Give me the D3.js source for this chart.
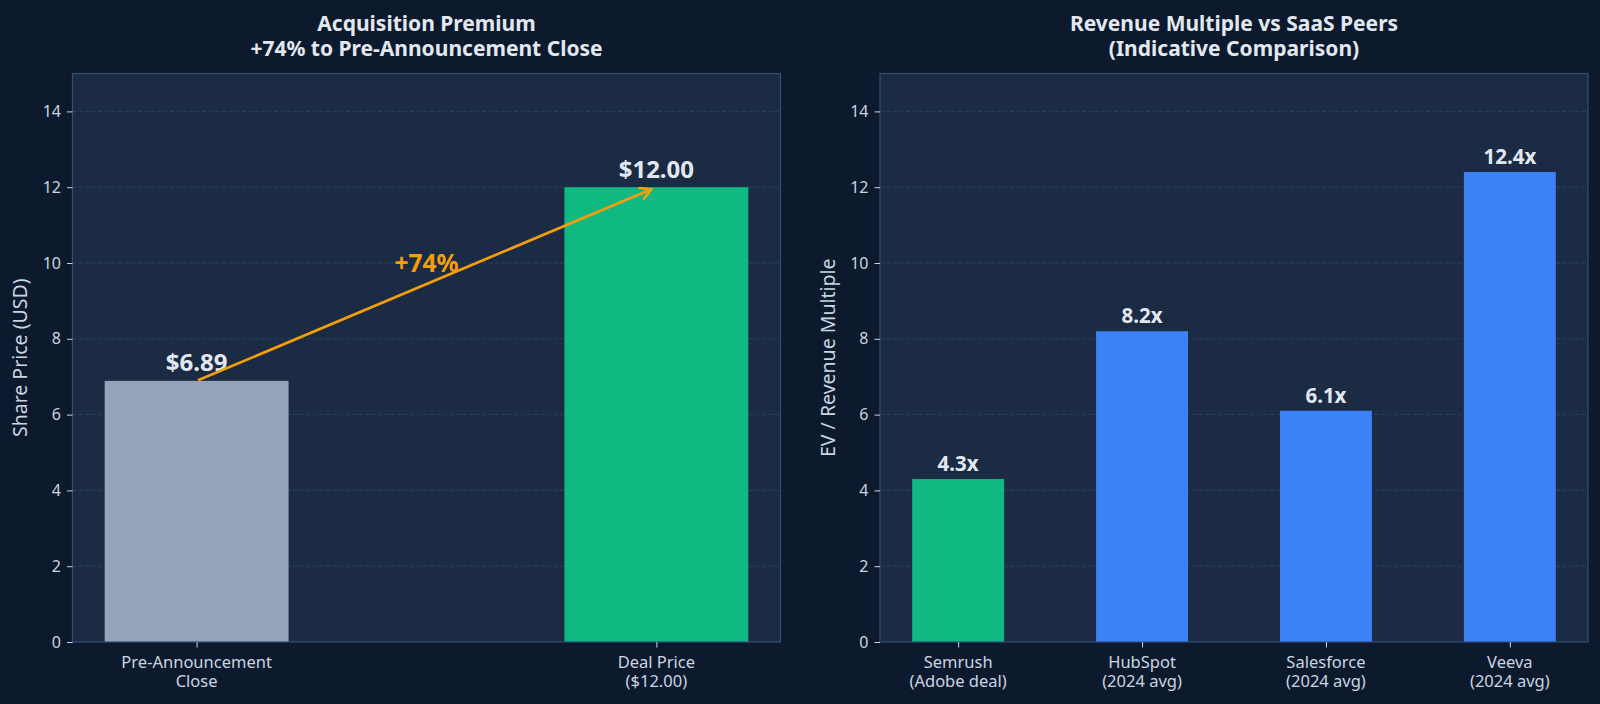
<!DOCTYPE html>
<html>
<head>
<meta charset="utf-8">
<script src="https://cdn.jsdelivr.net/npm/d3@7"></script>
<style>
  body { margin: 0; background: #0d1a2d; }
  svg { display: block; }
  text { font-family: "Noto Sans", "Open Sans", sans-serif; }
</style>
</head>
<body>
<div id="chart"></div>
<script>
// data
var premiumLabels = [["Pre-Announcement", "Close"], ["Deal Price", "($12.00)"]];
var premiumValues = [6.89, 12.00];
var premiumText = ["$6.89", "$12.00"];
var premiumPct = "+74%";

var peerLabels = [["Semrush", "(Adobe deal)"], ["HubSpot", "(2024 avg)"], ["Salesforce", "(2024 avg)"], ["Veeva", "(2024 avg)"]];
var peerValues = [4.3, 8.2, 6.1, 12.4];
var peerText = ["4.3x", "8.2x", "6.1x", "12.4x"];

var yTicks = [0, 2, 4, 6, 8, 10, 12, 14];

var W = 1600, H = 704;
var plotTop = 73.5, plotBottom = 642;
var panelW = 708;

var svg = d3.select("#chart").append("svg")
    .attr("width", W)
    .attr("height", H);

svg.append("rect").attr("width", W).attr("height", H).attr("fill", "#0d1a2d");

var defs = svg.append("defs");
defs.append("marker")
    .attr("id", "arrowhead")
    .attr("viewBox", "0 0 12 12")
    .attr("refX", 10).attr("refY", 6)
    .attr("markerWidth", 14).attr("markerHeight", 14)
    .attr("markerUnits", "userSpaceOnUse")
    .attr("orient", "auto")
    .append("path")
    .attr("d", "M1,1 L10,6 L1,11")
    .attr("fill", "none")
    .attr("stroke", "#f59e0b")
    .attr("stroke-width", 2.3)
    .attr("stroke-linecap", "round");

function panel(left, labels, values, xDomain, barW, colors, title, yLabel) {
    var g = svg.append("g").attr("transform", "translate(" + left + ",0)");

    var x = d3.scaleLinear().domain(xDomain).range([0, panelW]);
    var y = d3.scaleLinear().domain([0, 15]).range([plotBottom, plotTop]);

    // background
    g.append("rect")
        .attr("x", 0).attr("y", plotTop)
        .attr("width", panelW).attr("height", plotBottom - plotTop)
        .attr("fill", "#1c2b44");

    // grid
    g.selectAll(".grid")
        .data(yTicks.filter(function (d) { return d > 0; }))
        .enter()
        .append("line")
        .attr("class", "grid")
        .attr("x1", 0).attr("x2", panelW)
        .attr("y1", function (d) { return y(d); })
        .attr("y2", function (d) { return y(d); })
        .attr("stroke", "#2f4566")
        .attr("stroke-width", 0.8)
        .attr("stroke-dasharray", "4,2.5");

    // bars
    g.selectAll(".bar")
        .data(values)
        .enter()
        .append("rect")
        .attr("class", "bar")
        .attr("x", function (d, i) { return x(i - barW / 2); })
        .attr("y", function (d) { return y(d); })
        .attr("width", x(barW) - x(0))
        .attr("height", function (d) { return y(0) - y(d); })
        .attr("fill", function (d, i) { return colors[i]; });

    // frame
    g.append("rect")
        .attr("x", 0).attr("y", plotTop)
        .attr("width", panelW).attr("height", plotBottom - plotTop)
        .attr("fill", "none")
        .attr("stroke", "#334e75")
        .attr("stroke-width", 1.2);

    // y axis
    var yAxis = d3.axisLeft(y).tickValues(yTicks).tickSize(5.5).tickPadding(6);
    var ya = g.append("g").call(yAxis);
    ya.select(".domain").remove();
    ya.selectAll("line").attr("stroke", "#cbd5e1").attr("stroke-width", 1);
    ya.selectAll("text").attr("fill", "#cbd5e1").attr("font-size", 16)
        .style("font-family", "Noto Sans");

    // x axis
    var xAxis = d3.axisBottom(x).tickValues(d3.range(labels.length)).tickSize(5.5).tickFormat("");
    var xa = g.append("g").attr("transform", "translate(0," + plotBottom + ")").call(xAxis);
    xa.select(".domain").remove();
    xa.selectAll("line").attr("stroke", "#cbd5e1").attr("stroke-width", 1);

    labels.forEach(function (lines, i) {
        var t = g.append("text")
            .attr("x", x(i))
            .attr("y", plotBottom + 26)
            .attr("text-anchor", "middle")
            .attr("fill", "#cbd5e1")
            .attr("font-size", 16.5);
        lines.forEach(function (l, k) {
            t.append("tspan").attr("x", x(i)).attr("dy", k === 0 ? 0 : 18.5).text(l);
        });
    });

    // y label
    g.append("text")
        .attr("transform", "translate(-52," + ((plotTop + plotBottom) / 2) + ") rotate(-90)")
        .attr("dy", "0.35em")
        .attr("text-anchor", "middle")
        .attr("fill", "#cbd5e1")
        .attr("font-size", 19.5)
        .text(yLabel);

    // title
    var tt = g.append("text")
        .attr("x", panelW / 2)
        .attr("y", 30.5)
        .attr("text-anchor", "middle")
        .attr("fill", "#e2e8f0")
        .attr("font-size", 21)
        .attr("font-weight", "bold");
    title.forEach(function (l, k) {
        tt.append("tspan").attr("x", panelW / 2).attr("dy", k === 0 ? 0 : 25).text(l);
    });

    return { g: g, x: x, y: y };
}

var left = panel(72.5, premiumLabels, premiumValues, [-0.27, 1.27], 0.4,
    ["#94a3b8", "#10b981"],
    ["Acquisition Premium", "+74% to Pre-Announcement Close"], "Share Price (USD)");

left.g.selectAll(".val")
    .data(premiumValues)
    .enter()
    .append("text")
    .attr("class", "val")
    .attr("x", function (d, i) { return left.x(i); })
    .attr("y", function (d) { return left.y(d) - 9.7; })
    .attr("text-anchor", "middle")
    .attr("fill", "#e2e8f0")
    .attr("font-size", 24)
    .attr("font-weight", "bold")
    .text(function (d, i) { return premiumText[i]; });

// premium arrow, shrunk a little at both ends
var ax1 = left.x(0), ay1 = left.y(premiumValues[0]);
var ax2 = left.x(1), ay2 = left.y(premiumValues[1]);
var alen = Math.sqrt((ax2 - ax1) * (ax2 - ax1) + (ay2 - ay1) * (ay2 - ay1));
var ux = (ax2 - ax1) / alen, uy = (ay2 - ay1) / alen;

left.g.append("line")
    .attr("x1", ax1 + ux * 1.5).attr("y1", ay1 + uy * 1.5)
    .attr("x2", ax2 - ux * 5.5).attr("y2", ay2 - uy * 5.5)
    .attr("stroke", "#f59e0b")
    .attr("stroke-width", 2.7)
    .attr("marker-end", "url(#arrowhead)");

left.g.append("text")
    .attr("x", left.x(0.5))
    .attr("y", left.y(10))
    .attr("dy", "0.35em")
    .attr("text-anchor", "middle")
    .attr("fill", "#f59e0b")
    .attr("font-size", 24.5)
    .attr("font-weight", "bold")
    .text(premiumPct);

var right = panel(880, peerLabels, peerValues, [-0.425, 3.425], 0.5,
    ["#10b981", "#3b82f6", "#3b82f6", "#3b82f6"],
    ["Revenue Multiple vs SaaS Peers", "(Indicative Comparison)"], "EV / Revenue Multiple");

right.g.selectAll(".val")
    .data(peerValues)
    .enter()
    .append("text")
    .attr("class", "val")
    .attr("x", function (d, i) { return right.x(i); })
    .attr("y", function (d) { return right.y(d) - 8.3; })
    .attr("text-anchor", "middle")
    .attr("fill", "#e2e8f0")
    .attr("font-size", 20.5)
    .attr("font-weight", "bold")
    .text(function (d, i) { return peerText[i]; });
</script>
</body>
</html>
